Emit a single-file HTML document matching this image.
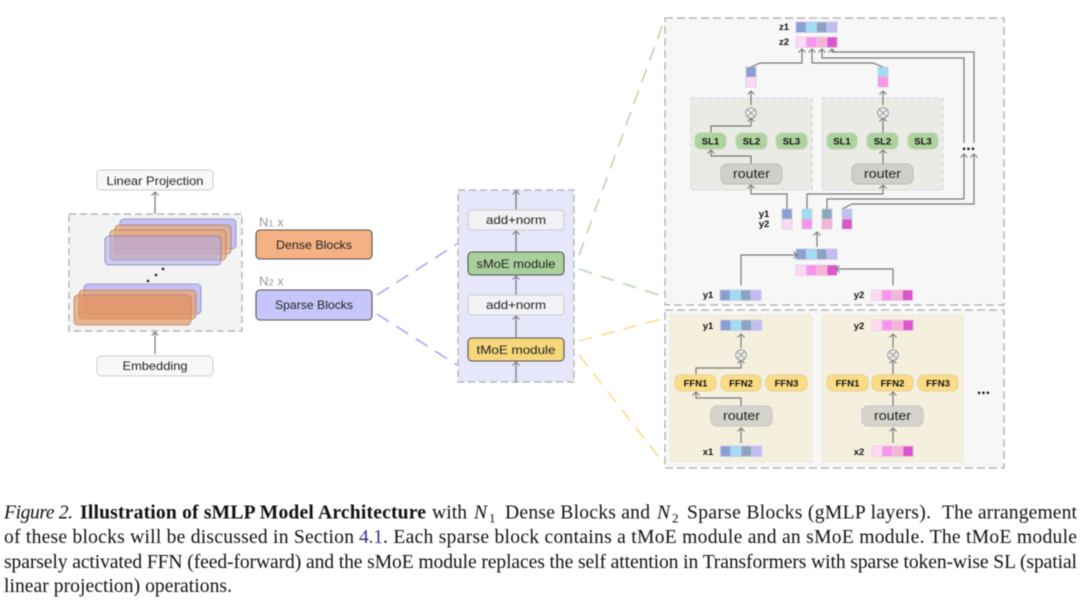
<!DOCTYPE html>
<html><head><meta charset="utf-8"><style>
html,body{margin:0;padding:0;background:#fff}
svg{display:block;filter:blur(.4px)}
.l{font-family:"Liberation Sans",sans-serif;fill:#222;text-anchor:middle}
.c{font-family:"Liberation Serif",serif;font-size:19.6px;fill:#111}
.b{font-family:"Liberation Sans",sans-serif;font-weight:bold;font-size:9.5px;fill:#111;text-anchor:middle}
.w{fill:none;stroke:#777;stroke-width:1.2}
</style></head><body>
<svg width="1080" height="601" viewBox="0 0 1080 601" xmlns="http://www.w3.org/2000/svg">
<defs>
<marker id="a" markerWidth="10" markerHeight="10" refX="7" refY="5" orient="auto" markerUnits="userSpaceOnUse"><path d="M3.5 1.5L7 5L3.5 8.5" fill="none" stroke="#777" stroke-width="1"/></marker>
<g id="r1" stroke="#cfc8e8" stroke-width=".8"><rect x="0" y="0" width="10.3" height="10.5" fill="#8a9fd4"/><rect x="10.3" y="0" width="10.3" height="10.5" fill="#a0dcf5"/><rect x="20.6" y="0" width="10.3" height="10.5" fill="#8aa5c0"/><rect x="30.9" y="0" width="10.3" height="10.5" fill="#c0bdf2"/></g>
<g id="r2" stroke="#e6cfe2" stroke-width=".8"><rect x="0" y="0" width="10.3" height="10.5" fill="#fcd9f5"/><rect x="10.3" y="0" width="10.3" height="10.5" fill="#f993ee"/><rect x="20.6" y="0" width="10.3" height="10.5" fill="#f7b3d5"/><rect x="30.9" y="0" width="10.3" height="10.5" fill="#dd55cc"/></g>
<g id="x"><circle cx="0" cy="0" r="5.3" fill="#eee" stroke="#999" stroke-width="1"/><path d="M-3.7-3.7L3.7 3.7M-3.7 3.7L3.7-3.7" stroke="#999" stroke-width="1"/></g>
</defs>

<!-- left panel -->
<rect x="69" y="214" width="173" height="117" fill="#f3f3f3" stroke="#aaa" stroke-width="1.2" stroke-dasharray="7 4"/>
<g stroke-width=".8">
<rect x="120" y="219" width="116" height="30" rx="4" fill="#c2c2f6" stroke="#8a8ab0"/>
<rect x="115" y="225" width="116" height="29" rx="4" fill="#e9a87c" fill-opacity=".7" stroke="#a8805f"/>
<rect x="110" y="230" width="116" height="30" rx="4" fill="#e9a87c" fill-opacity=".7" stroke="#a8805f"/>
<rect x="105" y="236" width="116" height="29" rx="4" fill="#a9a9f0" fill-opacity=".55" stroke="#8080a8"/>
<rect x="84" y="284" width="117" height="30" rx="4" fill="#c2c2f6" stroke="#8a8ab0"/>
<rect x="79" y="290" width="117" height="29" rx="4" fill="#e8a070" fill-opacity=".75" stroke="#b88660"/>
<rect x="74" y="295" width="117" height="30" rx="4" fill="#e09060" fill-opacity=".65" stroke="#b88660"/>
</g>
<circle cx="148" cy="281" r="1.4" fill="#333"/><circle cx="156" cy="275" r="1.4" fill="#333"/><circle cx="163" cy="269" r="1.4" fill="#333"/>
<rect x="97" y="170" width="116" height="20" rx="4" fill="#f8f8f8" stroke="#ccc"/>
<text class="l" x="155" y="185" font-size="12" textLength="97" lengthAdjust="spacingAndGlyphs">Linear Projection</text>
<rect x="97" y="356" width="116" height="20" rx="4" fill="#f8f8f8" stroke="#ccc"/>
<text class="l" x="155" y="370" font-size="12" textLength="65" lengthAdjust="spacingAndGlyphs">Embedding</text>
<path class="w" d="M155 354V332" marker-end="url(#a)"/>
<path class="w" d="M155 214V192" marker-end="url(#a)"/>

<text class="l" x="259" y="226.500" font-size="13" style="text-anchor:start;fill:#999">N<tspan font-size="9.5">1</tspan> x</text>
<text class="l" x="259" y="285.500" font-size="13" style="text-anchor:start;fill:#999">N<tspan font-size="9.5">2</tspan> x</text>
<rect x="256" y="230" width="116" height="29" rx="4" fill="#f4b183" stroke="#555" stroke-width="1.1"/>
<text class="l" x="314" y="249" font-size="12" textLength="76" lengthAdjust="spacingAndGlyphs">Dense Blocks</text>
<rect x="256" y="290" width="116" height="30" rx="4" fill="#c6c6fa" stroke="#555" stroke-width="1.1"/>
<text class="l" x="314" y="309" font-size="12" textLength="78" lengthAdjust="spacingAndGlyphs">Sparse Blocks</text>

<!-- dashed links -->
<path d="M377 295L457 244" fill="none" stroke="#a6a6fb" stroke-width="1.6" stroke-dasharray="14 9"/>
<path d="M377 314L457 365" fill="none" stroke="#a6a6fb" stroke-width="1.6" stroke-dasharray="14 9"/>
<path d="M579 255L665 18" fill="none" stroke="#bcd4ac" stroke-width="1.6" stroke-dasharray="14 9"/>
<path d="M579 269L665 297" fill="none" stroke="#bcd4ac" stroke-width="1.6" stroke-dasharray="14 9"/>
<path d="M579 341L665 318" fill="none" stroke="#fcdc8c" stroke-width="1.6" stroke-dasharray="14 9"/>
<path d="M579 355L665 465" fill="none" stroke="#fcdc8c" stroke-width="1.6" stroke-dasharray="14 9"/>

<!-- middle -->
<rect x="458" y="190" width="116" height="192" fill="#e7e7fb" stroke="#aaa" stroke-width="1.2" stroke-dasharray="7 4"/>
<path class="w" d="M516 382V362" marker-end="url(#a)"/>
<path class="w" d="M516 338V316" marker-end="url(#a)"/>
<path class="w" d="M516 295V276" marker-end="url(#a)"/>
<path class="w" d="M516 252V231" marker-end="url(#a)"/>
<path class="w" d="M516 210V191" marker-end="url(#a)"/>
<rect x="468" y="210" width="96" height="20" rx="4" fill="#f1f1f6" stroke="#ccc"/>
<text class="l" x="516" y="224" font-size="12" textLength="60" lengthAdjust="spacingAndGlyphs">add+norm</text>
<rect x="468" y="252" width="96" height="23" rx="4" fill="#a9d09b" stroke="#555" stroke-width="1.1"/>
<text class="l" x="516" y="268" font-size="12" textLength="79" lengthAdjust="spacingAndGlyphs">sMoE module</text>
<rect x="468" y="295" width="96" height="20" rx="4" fill="#f1f1f6" stroke="#ccc"/>
<text class="l" x="516" y="309" font-size="12" textLength="60" lengthAdjust="spacingAndGlyphs">add+norm</text>
<rect x="468" y="338" width="96" height="23" rx="4" fill="#f6d77c" stroke="#555" stroke-width="1.1"/>
<text class="l" x="516" y="354" font-size="12" textLength="79" lengthAdjust="spacingAndGlyphs">tMoE module</text>

<!-- top right panel -->
<rect x="665" y="18" width="339" height="287" fill="#f7f7f7" stroke="#aaa" stroke-width="1.2" stroke-dasharray="8 4"/>
<rect x="691" y="98" width="121" height="92" fill="#e9ebe4" stroke="#ccd" stroke-width=".8" stroke-dasharray="5 3"/>
<rect x="822" y="98" width="121" height="92" fill="#e9ebe4" stroke="#ccd" stroke-width=".8" stroke-dasharray="5 3"/>
<use href="#r1" x="796" y="22"/><use href="#r2" x="796" y="37"/>
<text class="b" x="784" y="30">z1</text><text class="b" x="784" y="45">z2</text>
<rect x="746" y="67" width="10" height="10" fill="#8a9fd4" stroke="#ccc" stroke-width=".7"/><rect x="746" y="77" width="10" height="10" fill="#fcd9f5" stroke="#ccc" stroke-width=".7"/>
<rect x="878" y="67" width="10" height="10" fill="#a0dcf5" stroke="#ccc" stroke-width=".7"/><rect x="878" y="77" width="10" height="10" fill="#f993ee" stroke="#ccc" stroke-width=".7"/>
<path class="w" d="M751 67L760 63H802V49" marker-end="url(#a)"/>
<path class="w" d="M883 67L873 63H812V49" marker-end="url(#a)"/>
<path class="w" d="M964 143V58H822V49" marker-end="url(#a)"/>
<path class="w" d="M974 143V52H832V49" marker-end="url(#a)"/>
<path class="w" d="M751 105V91" marker-end="url(#a)"/>
<path class="w" d="M883 105V91" marker-end="url(#a)"/>
<path class="w" d="M711 133V126H751V118" marker-end="url(#a)"/>
<path class="w" d="M883 133V118" marker-end="url(#a)"/>
<use href="#x" x="751" y="113"/><use href="#x" x="883" y="113"/>
<path class="w" d="M751 164V156H711V150" marker-end="url(#a)"/>
<path class="w" d="M883 164V150" marker-end="url(#a)"/>
<g fill="#aed29f" stroke="#bcd3b0">
<rect x="695" y="133" width="31" height="16" rx="6"/><rect x="736" y="133" width="31" height="16" rx="6"/><rect x="776" y="133" width="31" height="16" rx="6"/>
<rect x="827" y="133" width="30" height="16" rx="6"/><rect x="867" y="133" width="31" height="16" rx="6"/><rect x="908" y="133" width="30" height="16" rx="6"/>
</g>
<text class="b" x="710.500" y="144.500">SL1</text><text class="b" x="751.500" y="144.500">SL2</text><text class="b" x="791.500" y="144.500">SL3</text><text class="b" x="842" y="144.500">SL1</text><text class="b" x="882.500" y="144.500">SL2</text><text class="b" x="923" y="144.500">SL3</text>
<rect x="721" y="164" width="61" height="20" rx="6" fill="#cfcfcb" stroke="#bbb"/>
<rect x="852" y="164" width="61" height="20" rx="6" fill="#cfcfcb" stroke="#bbb"/>
<text class="l" x="751.500" y="178" font-size="12.500" textLength="37" lengthAdjust="spacingAndGlyphs">router</text>
<text class="l" x="882.500" y="178" font-size="12.500" textLength="37" lengthAdjust="spacingAndGlyphs">router</text>
<path class="w" d="M787 209V194H751V185" marker-end="url(#a)"/>
<path class="w" d="M807 209V194H883V185" marker-end="url(#a)"/>
<path class="w" d="M827 209V199H964V154" marker-end="url(#a)"/>
<path class="w" d="M842 209L852 204H974V154" marker-end="url(#a)"/>
<text x="968.500" y="150" font-family="Liberation Sans" font-weight="bold" font-size="16" text-anchor="middle" fill="#111">...</text>
<rect x="782" y="209" width="10" height="10" fill="#8a9fd4" stroke="#ccc" stroke-width=".7"/><rect x="782" y="219" width="10" height="10" fill="#fcd9f5" stroke="#ccc" stroke-width=".7"/>
<rect x="802" y="209" width="10" height="10" fill="#a0dcf5" stroke="#ccc" stroke-width=".7"/><rect x="802" y="219" width="10" height="10" fill="#f993ee" stroke="#ccc" stroke-width=".7"/>
<rect x="822" y="209" width="10" height="10" fill="#8aa5c0" stroke="#ccc" stroke-width=".7"/><rect x="822" y="219" width="10" height="10" fill="#f7b3d5" stroke="#ccc" stroke-width=".7"/>
<rect x="842" y="209" width="10" height="10" fill="#c0bdf2" stroke="#ccc" stroke-width=".7"/><rect x="842" y="219" width="10" height="10" fill="#dd55cc" stroke="#ccc" stroke-width=".7"/>
<text class="b" x="764" y="217">y1</text><text class="b" x="764" y="227">y2</text>
<path class="w" d="M817 247V232" marker-end="url(#a)"/>
<use href="#r1" x="796" y="249"/><use href="#r2" x="796" y="265"/>
<use href="#r1" x="720" y="290"/><use href="#r2" x="871.500" y="290"/>
<text class="b" x="708" y="298">y1</text><text class="b" x="859" y="298">y2</text>
<path class="w" d="M741 285V255H797" marker-end="url(#a)"/>
<path class="w" d="M893 285V269H836" marker-end="url(#a)"/>

<!-- bottom right panel -->
<rect x="665" y="310" width="339" height="158" fill="#f7f7f7" stroke="#aaa" stroke-width="1.2" stroke-dasharray="8 4"/>
<rect x="670" y="315" width="142" height="147" fill="#f5f0de" stroke="#e6e0c8" stroke-width=".8" stroke-dasharray="5 3"/>
<rect x="822" y="315" width="141" height="147" fill="#f5f0de" stroke="#e6e0c8" stroke-width=".8" stroke-dasharray="5 3"/>
<use href="#r1" x="720.500" y="320"/><use href="#r2" x="872" y="320"/>
<use href="#r1" x="720.500" y="446"/><use href="#r2" x="872" y="446"/>
<text class="b" x="708" y="329">y1</text><text class="b" x="859" y="329">y2</text>
<text class="b" x="708" y="455">x1</text><text class="b" x="859" y="455">x2</text>
<path class="w" d="M741 348V334" marker-end="url(#a)"/>
<path class="w" d="M893 348V334" marker-end="url(#a)"/>
<path class="w" d="M696 375V368H741V360" marker-end="url(#a)"/>
<path class="w" d="M893 375V360" marker-end="url(#a)"/>
<use href="#x" x="741" y="355"/><use href="#x" x="893" y="355"/>
<path class="w" d="M741 406V398H696V392" marker-end="url(#a)"/>
<path class="w" d="M893 406V392" marker-end="url(#a)"/>
<path class="w" d="M741 443V428" marker-end="url(#a)"/>
<path class="w" d="M893 443V428" marker-end="url(#a)"/>
<g fill="#fbdc85" stroke="#e2d09a">
<rect x="675" y="375" width="41" height="16" rx="6"/><rect x="721" y="375" width="40" height="16" rx="6"/><rect x="766" y="375" width="41" height="16" rx="6"/>
<rect x="827" y="375" width="41" height="16" rx="6"/><rect x="872" y="375" width="41" height="16" rx="6"/><rect x="918" y="375" width="40" height="16" rx="6"/>
</g>
<text class="b" x="695.500" y="386.500">FFN1</text><text class="b" x="741" y="386.500">FFN2</text><text class="b" x="786.500" y="386.500">FFN3</text>
<text class="b" x="847.500" y="386.500">FFN1</text><text class="b" x="892.500" y="386.500">FFN2</text><text class="b" x="938" y="386.500">FFN3</text>
<rect x="711" y="406" width="61" height="20" rx="6" fill="#d5d3cc" stroke="#c4c4c0"/>
<rect x="862" y="406" width="61" height="20" rx="6" fill="#d5d3cc" stroke="#c4c4c0"/>
<text class="l" x="741.500" y="420" font-size="12.500" textLength="37" lengthAdjust="spacingAndGlyphs">router</text>
<text class="l" x="892.500" y="420" font-size="12.500" textLength="37" lengthAdjust="spacingAndGlyphs">router</text>
<text x="983.500" y="394" font-family="Liberation Sans" font-weight="bold" font-size="16" text-anchor="middle" fill="#111">...</text>

<!-- caption -->
<text class="c" x="4" y="518.500" font-style="italic" textLength="69">Figure 2.</text>
<text class="c" x="80" y="518.500" font-weight="bold" textLength="346">Illustration of sMLP Model Architecture</text>
<text class="c" x="432" y="518.500" textLength="35">with</text>
<text class="c" x="474" y="518.500" font-style="italic">N</text><text class="c" x="489" y="522.500" style="font-size:13px">1</text>
<text class="c" x="505" y="518.500" textLength="145">Dense Blocks and</text>
<text class="c" x="657" y="518.500" font-style="italic">N</text><text class="c" x="672" y="522.500" style="font-size:13px">2</text>
<text class="c" x="687" y="518.500" textLength="244">Sparse Blocks (gMLP layers).</text>
<text class="c" x="942" y="518.500" textLength="135">The arrangement</text>
<text class="c" x="4" y="543" textLength="350">of these blocks will be discussed in Section</text>
<text class="c" x="359" y="543" style="fill:#33338a" textLength="24">4.1</text>
<text class="c" x="383" y="543" textLength="694">. Each sparse block contains a tMoE module and an sMoE module. The tMoE module</text>
<text class="c" x="4" y="568" textLength="1073">sparsely activated FFN (feed-forward) and the sMoE module replaces the self attention in Transformers with sparse token-wise SL (spatial</text>
<text class="c" x="4" y="592" textLength="228">linear projection) operations.</text>
</svg>
</body></html>
